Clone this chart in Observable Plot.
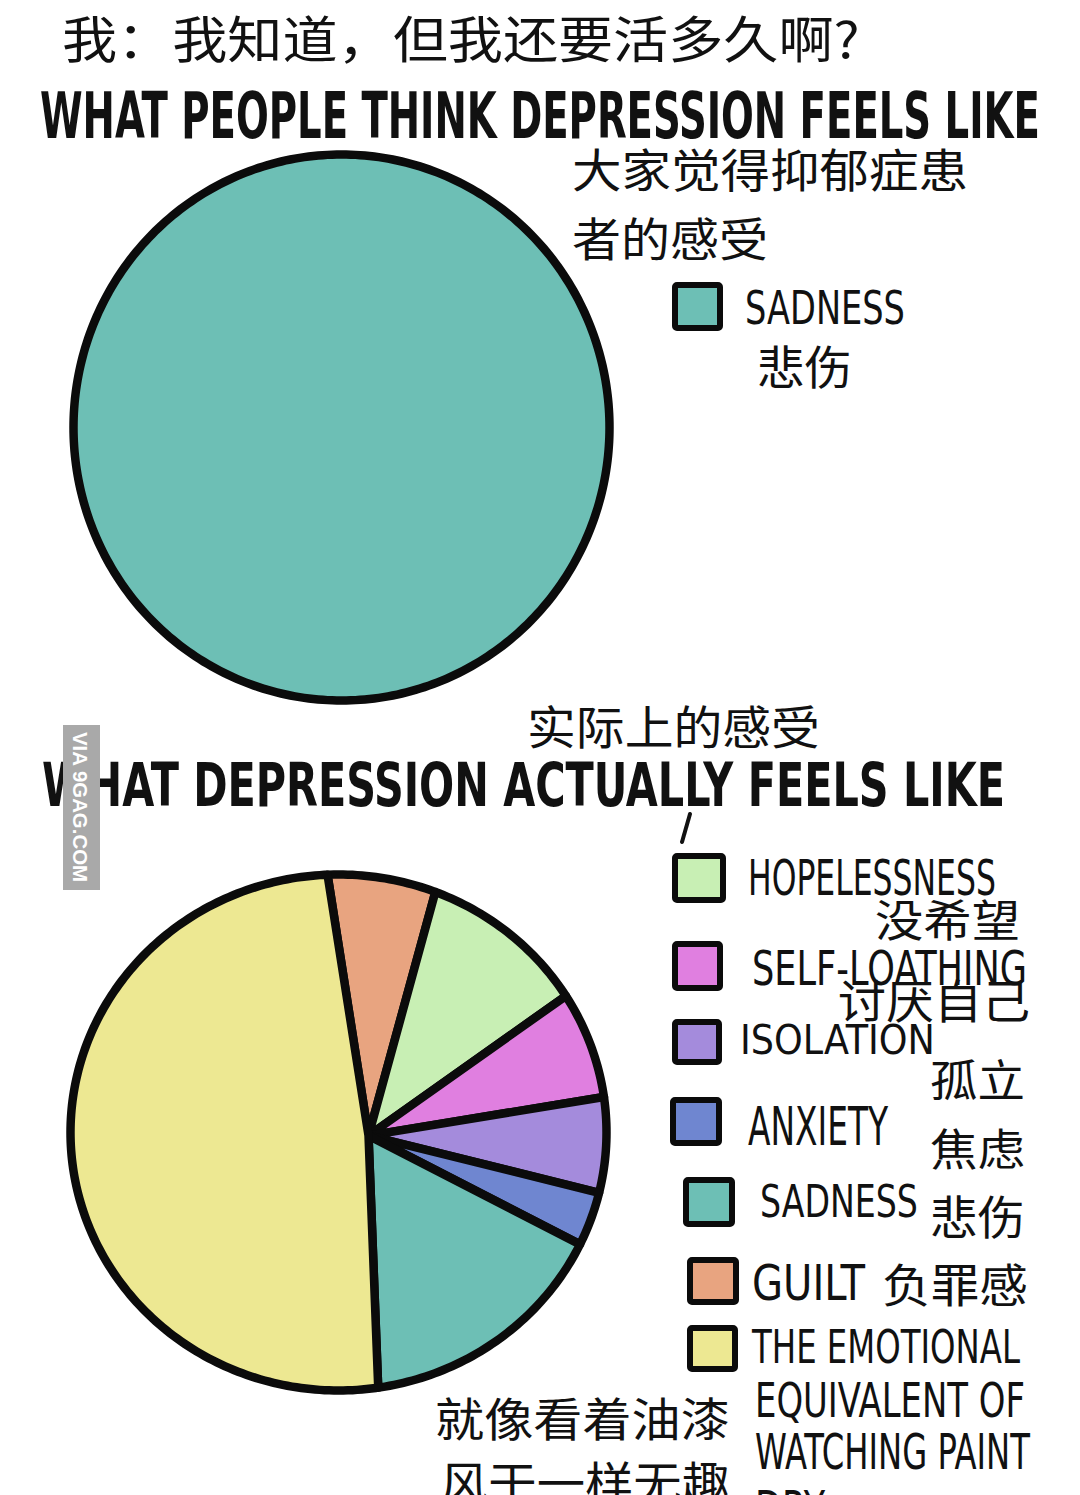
<!DOCTYPE html>
<html><head><meta charset="utf-8">
<script src="https://cdn.jsdelivr.net/npm/d3@7"></script>
<script src="https://cdn.jsdelivr.net/npm/@observablehq/plot@0.6"></script>
<style>
html,body{margin:0;padding:0;background:#fff;}
#page{position:relative;width:1080px;height:1495px;overflow:hidden;background:#fff;}
#page .pie{position:absolute;}
#overlay{position:absolute;left:0;top:0;}
</style></head><body><div id="page"></div>
<script>
// ---- data ----
const thinkLabels = ["Sadness"];
const thinkValues = [100];
const thinkColors = ["#6dbfb5"];

// slices clockwise from the top
const actualLabels = ["Guilt","Hopelessness","Self-loathing","Isolation","Anxiety","Sadness","Watching paint dry"];
const actualValues = [6.5, 10.8, 7.4, 6.7, 3.8, 16.6, 48.2];
const actualColors = ["#e8a480","#c8efb4","#e07fe0","#a48bdc","#6f86d0","#6dbfb5","#ede892"];

// legend (order as drawn)
const legendKeys = ["Hopelessness","Self-loathing","Isolation","Anxiety","Sadness","Guilt","Watching paint dry"];
const legendEnglish = ["HOPELESSNESS","SELF-LOATHING","ISOLATION","ANXIETY","SADNESS","GUILT","THE EMOTIONAL"];
const legendChinese = ["没希望","讨厌自己","孤立","焦虑","悲伤","负罪感","就像看着油漆"];

const topLine = "我：我知道，但我还要活多久啊?";
const title1 = "WHAT PEOPLE THINK DEPRESSION FEELS LIKE";
const title1Cn = ["大家觉得抑郁症患","者的感受"];
const title2 = "WHAT DEPRESSION ACTUALLY FEELS LIKE";
const title2Cn = "实际上的感受";

// ---- geometry ----
function sliceRows(labels, values, startDeg, hub) {
  const total = d3.sum(values);
  const [hx, hy] = hub;
  const hit = (deg) => {
    const a = deg * Math.PI / 180, dx = Math.sin(a), dy = Math.cos(a);
    const b = hx * dx + hy * dy;
    const t = -b + Math.sqrt(b * b - (hx * hx + hy * hy) + 1);
    return [hx + t * dx, hy + t * dy];
  };
  const rows = [];
  let cum = 0;
  labels.forEach((label, i) => {
    const a0 = startDeg + 360 * cum / total;
    cum += values[i];
    const a1 = startDeg + 360 * cum / total;
    const pts = [];
    if (values[i] >= total) {
      for (let k = 0; k < 360; k++) { const a = k * Math.PI / 180; pts.push([Math.sin(a), Math.cos(a)]); }
    } else {
      const p0 = hit(a0), p1 = hit(a1);
      let f0 = Math.atan2(p0[0], p0[1]) * 180 / Math.PI;
      let f1 = Math.atan2(p1[0], p1[1]) * 180 / Math.PI;
      while (f1 <= f0) f1 += 360;
      pts.push([hx, hy], p0);
      for (let f = Math.ceil(f0); f < f1; f++) { const a = f * Math.PI / 180; pts.push([Math.sin(a), Math.cos(a)]); }
      pts.push(p1);
    }
    pts.forEach(([x, y]) => rows.push({label, x, y}));
  });
  return rows;
}

function pie(rows, labels, colors, rx, ry, pad) {
  return Plot.plot({
    width: 2 * rx + 2 * pad, height: 2 * ry + 2 * pad, margin: pad,
    x: {domain: [-1, 1], axis: null},
    y: {domain: [-1, 1], axis: null},
    color: {domain: labels, range: colors},
    style: {background: "transparent", overflow: "visible"},
    marks: [
      Plot.line(rows, {x: "x", y: "y", z: "label", fill: "label", stroke: "#0b0b0b",
        strokeWidth: 8.5, strokeLinejoin: "round", strokeLinecap: "round", curve: "linear-closed"})
    ]
  });
}

const page = document.getElementById("page");
function place(el, left, top) {
  el.classList.add("pie");
  el.style.left = left + "px"; el.style.top = top + "px";
  page.appendChild(el);
}
const pad = 10;
// pie 1
{
  const rx = 268, ry = 273, cx = 341, cy = 427;
  place(pie(sliceRows(thinkLabels, thinkValues, 0, [0, 0]), thinkLabels, thinkColors, rx, ry, pad), cx - rx - pad, cy - ry - pad);
}
// pie 2
{
  const rx = 268, ry = 258, cx = 338, cy = 1132;
  place(pie(sliceRows(actualLabels, actualValues, 351.4, [0.112, -0.012]), actualLabels, actualColors, rx, ry, pad), cx - rx - pad, cy - ry - pad);
}

// ---- annotations ----
const svg = d3.select(page).append("svg").attr("id", "overlay").attr("width", 1080).attr("height", 1495);
const HAND = "'DejaVu Sans Condensed','DejaVu Sans',sans-serif";
const CJK = "'Noto Sans CJK SC',sans-serif";
// text drawn `size` tall and exactly `len` wide: font size set so the natural width fits, then stretched vertically
function txt(str, x, y, size, len, font, weight) {
  const t = svg.append("text").attr("font-size", size).attr("font-family", font)
    .attr("font-weight", weight || "normal").attr("fill", "#111").text(str);
  const nat = t.node().getComputedTextLength() || len;
  const k = len / nat;
  t.attr("font-size", size * k).attr("transform", `translate(${x},${y}) scale(1,${1 / k})`);
}
const colorOf = (k) => actualColors[actualLabels.indexOf(k)];
function swatch(x, y, w, h, fill) {
  svg.append("rect").attr("x", x).attr("y", y).attr("width", w).attr("height", h)
    .attr("fill", fill).attr("stroke", "#0b0b0b").attr("stroke-width", 6).attr("stroke-linejoin", "round").attr("rx", 2);
}

txt(topLine, 62, 58, 50, 798, CJK);
txt(title1, 40, 138, 64, 1000, HAND, "bold");
txt(title1Cn[0], 572, 187, 46, 396, CJK);
txt(title1Cn[1], 572, 256, 46, 196, CJK);
swatch(675, 285, 45, 43, thinkColors[0]);
txt("SADNESS", 745, 324, 47, 160, HAND);
txt("悲伤", 757, 384, 46, 95, CJK);

txt(title2Cn, 527, 744, 46, 293, CJK);
txt(title2, 42, 806, 60, 963, HAND, "bold");
svg.append("path").attr("d", "M690,814 L682,842").attr("stroke", "#111").attr("stroke-width", 4).attr("stroke-linecap", "round");

// watermark
svg.append("rect").attr("x", 63).attr("y", 725).attr("width", 37).attr("height", 165).attr("fill", "#a9a9a9");
svg.append("text").attr("transform", "translate(81,807) rotate(90)").attr("text-anchor", "middle")
  .attr("dy", "0.36em").attr("font-size", 21).attr("font-weight", "bold")
  .attr("font-family", "'Liberation Sans','DejaVu Sans',sans-serif").attr("fill", "#fff")
  .attr("textLength", 150).attr("lengthAdjust", "spacingAndGlyphs").text("VIA 9GAG.COM");

// legend
const sw = [[675,856,48,44],[675,944,45,44],[675,1022,44,40],[673,1100,46,43],[686,1180,46,44],[690,1260,46,42],[690,1328,45,41]];
const en = [[748,895,50,248],[752,985,48,275],[740,1054,40,195],[748,1145,54,140],[760,1217,44,158],[752,1300,50,113],[752,1363,46,268]];
const cn = [[875,937,44,145],[838,1018,46,192],[930,1097,44,95],[930,1166,44,95],[930,1234,46,95],[882,1302,46,146],[435,1436,46,295]];
legendKeys.forEach((k, i) => {
  swatch(sw[i][0], sw[i][1], sw[i][2], sw[i][3], colorOf(k));
  txt(legendEnglish[i], en[i][0], en[i][1], en[i][2], en[i][3], HAND);
  txt(legendChinese[i], cn[i][0], cn[i][1], cn[i][2], cn[i][3], CJK);
});
txt("EQUIVALENT OF", 755, 1417, 48, 270, HAND);
txt("WATCHING PAINT", 755, 1469, 49, 275, HAND);
txt("DRY", 755, 1526, 50, 70, HAND);
txt("风干一样无趣", 440, 1500, 46, 290, CJK);
</script></body></html>
